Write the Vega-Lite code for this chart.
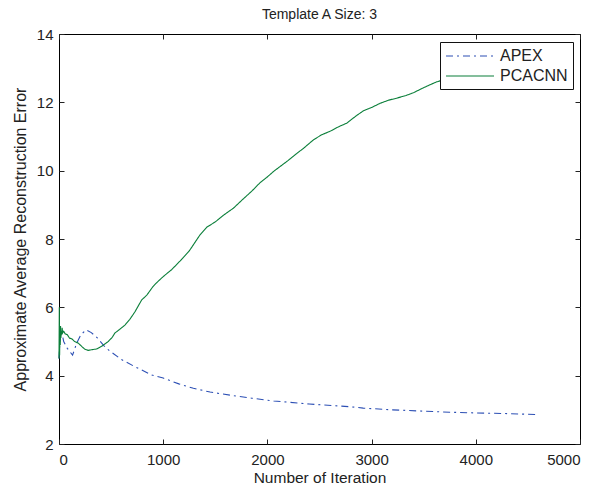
{
  "$schema": "https://vega.github.io/schema/vega-lite/v6.json",
  "width": 521,
  "height": 410,
  "autosize": "none",
  "padding": {"left": 59, "top": 34, "right": 28, "bottom": 47},
  "background": "white",
  "title": {"text": "Template A Size: 3", "font": "Liberation Sans", "fontSize": 14, "fontWeight": "normal", "color": "#222", "anchor": "middle", "offset": 5},
  "config": {
    "view": {"stroke": "#000", "strokeWidth": 1},
    "axis": {
      "domain": false, "grid": false, "ticks": true, "tickSize": -5, "tickColor": "#222", "tickWidth": 1,
      "labelFont": "Liberation Sans", "labelFontSize": 15, "labelColor": "#222",
      "titleFont": "Liberation Sans", "titleFontSize": 15.5, "titleFontWeight": "normal", "titleColor": "#222"
    }
  },
  "data": {"values": [
    {"s": "APEX", "x": 0, "y": 4.5},
    {"s": "APEX", "x": 10, "y": 5.1},
    {"s": "APEX", "x": 25, "y": 5.3},
    {"s": "APEX", "x": 45, "y": 5.0},
    {"s": "APEX", "x": 80, "y": 4.8},
    {"s": "APEX", "x": 130, "y": 4.6},
    {"s": "APEX", "x": 170, "y": 4.95},
    {"s": "APEX", "x": 210, "y": 5.2},
    {"s": "APEX", "x": 260, "y": 5.34},
    {"s": "APEX", "x": 310, "y": 5.26},
    {"s": "APEX", "x": 370, "y": 5.1},
    {"s": "APEX", "x": 430, "y": 4.88},
    {"s": "APEX", "x": 480, "y": 4.74},
    {"s": "APEX", "x": 600, "y": 4.47},
    {"s": "APEX", "x": 730, "y": 4.26},
    {"s": "APEX", "x": 890, "y": 4.02},
    {"s": "APEX", "x": 1000, "y": 3.93},
    {"s": "APEX", "x": 1150, "y": 3.76},
    {"s": "APEX", "x": 1290, "y": 3.63},
    {"s": "APEX", "x": 1450, "y": 3.52},
    {"s": "APEX", "x": 1640, "y": 3.43},
    {"s": "APEX", "x": 1850, "y": 3.34},
    {"s": "APEX", "x": 2060, "y": 3.26},
    {"s": "APEX", "x": 2400, "y": 3.17},
    {"s": "APEX", "x": 2800, "y": 3.09},
    {"s": "APEX", "x": 2920, "y": 3.05},
    {"s": "APEX", "x": 3200, "y": 3.0},
    {"s": "APEX", "x": 3500, "y": 2.96},
    {"s": "APEX", "x": 3750, "y": 2.93},
    {"s": "APEX", "x": 4000, "y": 2.91},
    {"s": "APEX", "x": 4300, "y": 2.89},
    {"s": "APEX", "x": 4600, "y": 2.86},
    {"s": "PCACNN", "x": 0, "y": 4.5},
    {"s": "PCACNN", "x": 3, "y": 6.0},
    {"s": "PCACNN", "x": 6, "y": 4.6},
    {"s": "PCACNN", "x": 9, "y": 5.4},
    {"s": "PCACNN", "x": 12, "y": 4.9},
    {"s": "PCACNN", "x": 15, "y": 5.45},
    {"s": "PCACNN", "x": 18, "y": 5.1},
    {"s": "PCACNN", "x": 22, "y": 5.3},
    {"s": "PCACNN", "x": 26, "y": 5.2},
    {"s": "PCACNN", "x": 30, "y": 5.4},
    {"s": "PCACNN", "x": 35, "y": 5.25},
    {"s": "PCACNN", "x": 45, "y": 5.3},
    {"s": "PCACNN", "x": 60, "y": 5.22},
    {"s": "PCACNN", "x": 80, "y": 5.2},
    {"s": "PCACNN", "x": 100, "y": 5.1},
    {"s": "PCACNN", "x": 122, "y": 5.08},
    {"s": "PCACNN", "x": 150, "y": 5.0},
    {"s": "PCACNN", "x": 186, "y": 4.95},
    {"s": "PCACNN", "x": 220, "y": 4.85},
    {"s": "PCACNN", "x": 250, "y": 4.77},
    {"s": "PCACNN", "x": 280, "y": 4.74},
    {"s": "PCACNN", "x": 314, "y": 4.76},
    {"s": "PCACNN", "x": 360, "y": 4.78},
    {"s": "PCACNN", "x": 410, "y": 4.86},
    {"s": "PCACNN", "x": 450, "y": 4.95},
    {"s": "PCACNN", "x": 473, "y": 5.0},
    {"s": "PCACNN", "x": 510, "y": 5.12},
    {"s": "PCACNN", "x": 537, "y": 5.25},
    {"s": "PCACNN", "x": 580, "y": 5.35},
    {"s": "PCACNN", "x": 633, "y": 5.48},
    {"s": "PCACNN", "x": 680, "y": 5.65},
    {"s": "PCACNN", "x": 729, "y": 5.87},
    {"s": "PCACNN", "x": 794, "y": 6.22},
    {"s": "PCACNN", "x": 841, "y": 6.35},
    {"s": "PCACNN", "x": 900, "y": 6.6},
    {"s": "PCACNN", "x": 937, "y": 6.72},
    {"s": "PCACNN", "x": 1000, "y": 6.9},
    {"s": "PCACNN", "x": 1080, "y": 7.1},
    {"s": "PCACNN", "x": 1160, "y": 7.35},
    {"s": "PCACNN", "x": 1250, "y": 7.65},
    {"s": "PCACNN", "x": 1353, "y": 8.12},
    {"s": "PCACNN", "x": 1420, "y": 8.35},
    {"s": "PCACNN", "x": 1500, "y": 8.5},
    {"s": "PCACNN", "x": 1580, "y": 8.7},
    {"s": "PCACNN", "x": 1673, "y": 8.9},
    {"s": "PCACNN", "x": 1760, "y": 9.15},
    {"s": "PCACNN", "x": 1850, "y": 9.4},
    {"s": "PCACNN", "x": 1930, "y": 9.65},
    {"s": "PCACNN", "x": 1993, "y": 9.8},
    {"s": "PCACNN", "x": 2060, "y": 9.98},
    {"s": "PCACNN", "x": 2121, "y": 10.12},
    {"s": "PCACNN", "x": 2200, "y": 10.3},
    {"s": "PCACNN", "x": 2280, "y": 10.5},
    {"s": "PCACNN", "x": 2345, "y": 10.65},
    {"s": "PCACNN", "x": 2441, "y": 10.9},
    {"s": "PCACNN", "x": 2520, "y": 11.05},
    {"s": "PCACNN", "x": 2600, "y": 11.15},
    {"s": "PCACNN", "x": 2680, "y": 11.28},
    {"s": "PCACNN", "x": 2761, "y": 11.39},
    {"s": "PCACNN", "x": 2850, "y": 11.6},
    {"s": "PCACNN", "x": 2920, "y": 11.75},
    {"s": "PCACNN", "x": 3000, "y": 11.85},
    {"s": "PCACNN", "x": 3081, "y": 11.97},
    {"s": "PCACNN", "x": 3160, "y": 12.06},
    {"s": "PCACNN", "x": 3250, "y": 12.13},
    {"s": "PCACNN", "x": 3330, "y": 12.2},
    {"s": "PCACNN", "x": 3401, "y": 12.28},
    {"s": "PCACNN", "x": 3480, "y": 12.4},
    {"s": "PCACNN", "x": 3550, "y": 12.5},
    {"s": "PCACNN", "x": 3625, "y": 12.6},
    {"s": "PCACNN", "x": 3800, "y": 12.75},
    {"s": "PCACNN", "x": 4000, "y": 12.95},
    {"s": "PCACNN", "x": 4200, "y": 13.1},
    {"s": "PCACNN", "x": 4400, "y": 13.2},
    {"s": "PCACNN", "x": 4620, "y": 13.3}
  ]},
  "layer": [
    {
      "mark": {"type": "line", "strokeWidth": 1.1, "interpolate": "linear"},
      "encoding": {
        "x": {"field": "x", "type": "quantitative", "scale": {"domain": [0, 5000], "nice": false},
              "axis": {"orient": "bottom", "values": [0, 1000, 2000, 3000, 4000, 5000], "format": "d", "title": "Number of Iteration", "labelPadding": 13, "titlePadding": 3}},
        "y": {"field": "y", "type": "quantitative", "scale": {"domain": [2, 14], "nice": false, "zero": false},
              "axis": {"orient": "left", "values": [2, 4, 6, 8, 10, 12, 14], "format": "d", "title": "Approximate Average Reconstruction Error", "titleFontSize": 16, "labelPadding": 11, "titlePadding": 8}},
        "color": {"field": "s", "type": "nominal", "scale": {"domain": ["APEX", "PCACNN"], "range": ["#2c4fb4", "#0b7f3a"]},
                  "legend": {"title": null, "orient": "none", "legendX": 381, "legendY": 8, "fillColor": "white", "strokeColor": "#111", "padding": 5,
                             "symbolType": "M-3,0H3", "symbolSize": 256, "symbolOffset": 16, "symbolStrokeWidth": 1.1, "symbolFillColor": "transparent",
                             "labelFont": "Liberation Sans", "labelFontSize": 16, "labelColor": "#222", "rowPadding": 3, "labelOffset": 21}},
        "strokeDash": {"field": "s", "type": "nominal", "scale": {"domain": ["APEX", "PCACNN"], "range": [[7, 4, 2, 4], [1, 0]]}, "legend": null}
      }
    },
    {
      "mark": {"type": "line", "opacity": 0},
      "encoding": {
        "x": {"field": "x", "type": "quantitative", "axis": {"orient": "top", "values": [0, 1000, 2000, 3000, 4000, 5000], "labels": false, "title": null}},
        "y": {"field": "y", "type": "quantitative", "axis": {"orient": "right", "values": [2, 4, 6, 8, 10, 12, 14], "labels": false, "title": null}},
        "detail": {"field": "s", "type": "nominal"}
      }
    }
  ],
  "resolve": {"axis": {"x": "independent", "y": "independent"}}
}
